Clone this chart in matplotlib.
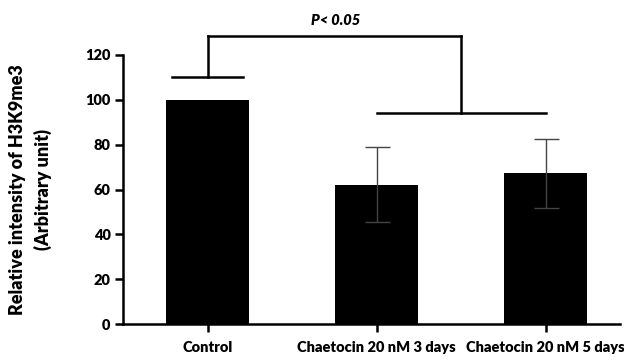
import matplotlib
matplotlib.use('Agg')
import matplotlib.pyplot as plt

# data
groups = ['Control', 'Chaetocin 20 nM 3 days', 'Chaetocin 20 nM 5 days']
means = [100, 62.2, 67.3]
errors = [0, 16.6, 15.4]
p_label = 'P< 0.05'

plt.rcParams['font.family'] = ['Lato', 'DejaVu Sans']
plt.rcParams['font.weight'] = 'bold'

fig = plt.figure(figsize=(6.24, 3.6), dpi=100)
ax = fig.add_axes([123/624, 36/360, 497/624, 269/360])

x = list(range(len(groups)))
ax.bar(x, means, width=0.495, color='black', zorder=2)
ax.errorbar(x[1:], means[1:], yerr=errors[1:], fmt='none', ecolor='#444444',
            elinewidth=1.0, capsize=9, capthick=1.0, zorder=3)

# significance bracket
lw = 1.8
ax.plot([-0.21, 0.21], [110, 110], color='black', lw=lw, clip_on=False)
ax.plot([0, 0], [110, 128.6], color='black', lw=lw, clip_on=False)
ax.plot([0, 1.5], [128.6, 128.6], color='black', lw=lw, clip_on=False)
ax.plot([1.5, 1.5], [128.6, 94], color='black', lw=lw, clip_on=False)
ax.plot([1, 2], [94, 94], color='black', lw=lw, clip_on=False)
ax.text(0.76, 135.5, p_label, ha='center', va='center', fontsize=10.5,
        fontweight='heavy', fontstyle='italic')

ax.set_xlim(-0.5, 2.44)
ax.set_ylim(0, 120)
ax.set_yticks([0, 20, 40, 60, 80, 100, 120])
ax.set_xticks(x)
ax.set_xticklabels(groups, fontsize=10.5, fontweight='heavy')
for t in ax.get_yticklabels():
    t.set_fontsize(10.5)
    t.set_fontweight('heavy')

ax.spines['top'].set_visible(False)
ax.spines['right'].set_visible(False)
ax.spines['left'].set_linewidth(1.8)
ax.spines['bottom'].set_linewidth(1.8)
ax.tick_params(axis='both', direction='out', length=6, width=1.8, pad=3)
ax.tick_params(axis='x', pad=6)

ax.set_ylabel('Relative intensity of H3K9me3\n(Arbitrary unit)', fontsize=13,
              fontweight='heavy', labelpad=24, linespacing=1.5)

fig.savefig('out.png', dpi=100)
